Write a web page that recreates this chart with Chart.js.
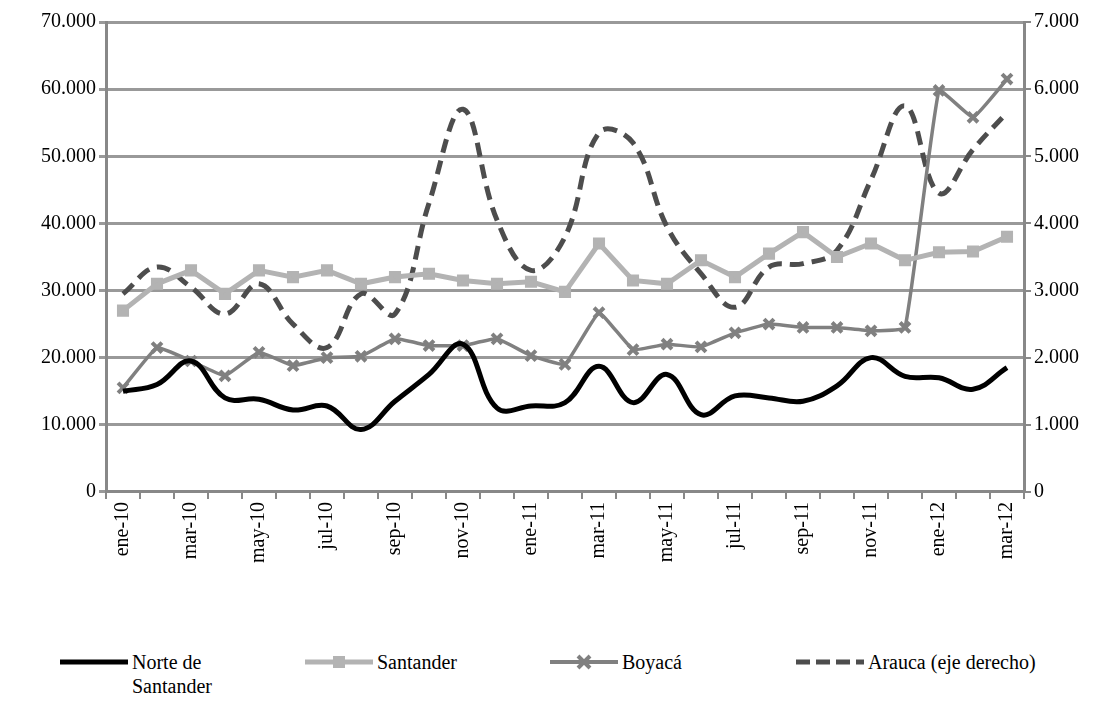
<!DOCTYPE html>
<html><head><meta charset="utf-8">
<script src="https://cdn.jsdelivr.net/npm/chart.js@4"></script>
<style>
body{margin:0;background:#fff;font-family:"Times New Roman","Liberation Serif",Times,serif;}
#wrap{position:absolute;left:0;top:0;width:1107px;height:566px;}
#legend{position:absolute;top:650px;left:0;width:1107px;font-size:20px;color:#000;}
.it{position:absolute;top:0;display:flex;align-items:flex-start;line-height:24px;}
.it svg{margin-right:2px;margin-top:2px;}
</style></head><body>
<div id="wrap"><canvas id="c"></canvas></div>
<div id="legend"></div>
<script>
const months=["ene-10","feb-10","mar-10","abr-10","may-10","jun-10","jul-10","ago-10","sep-10","oct-10","nov-10","dic-10","ene-11","feb-11","mar-11","abr-11","may-11","jun-11","jul-11","ago-11","sep-11","oct-11","nov-11","dic-11","ene-12","feb-12","mar-12"];
const norte=[15000,16000,19500,14000,13800,12200,12800,9300,13500,17500,22000,12500,12800,13300,18700,13300,17500,11500,14300,14000,13500,15800,20000,17200,17000,15300,18500];
const santander=[27000,31000,33000,29500,33000,32000,33000,31000,32000,32500,31500,31000,31300,29800,37000,31500,31000,34500,32000,35500,38700,35000,37000,34500,35700,35800,38000];
const boyaca=[15500,21500,19500,17300,20800,18800,20000,20200,22800,21800,21800,22800,20300,19000,26700,21200,22000,21600,23700,25000,24500,24500,24000,24500,59800,55800,61500];
const arauca=[2950,3350,3050,2650,3100,2500,2150,2950,2650,4300,5700,4050,3300,3800,5350,5200,3950,3250,2750,3350,3400,3600,4650,5750,4450,5100,5650];
const fmt=v=>String(v).replace(/\B(?=(\d{3})+(?!\d))/g,".");
const F={family:"'Times New Roman','Liberation Serif',serif",size:20};
new Chart(document.getElementById('c'),{type:'line',
data:{labels:months,datasets:[
{label:"Norte de Santander",data:norte,borderColor:"#000",borderWidth:5,pointRadius:0,tension:0.4,yAxisID:'y'},
{label:"Santander",data:santander,borderColor:"#b3b3b3",backgroundColor:"#b3b3b3",borderWidth:5,pointStyle:'rect',pointRadius:5,tension:0,yAxisID:'y'},
{label:"Boyacá",data:boyaca,borderColor:"#808080",backgroundColor:"#808080",borderWidth:3.5,pointStyle:'crossRot',pointRadius:7,pointBorderWidth:4,tension:0.1,yAxisID:'y'},
{label:"Arauca (eje derecho)",data:arauca,borderColor:"#4d4d4d",borderWidth:5,borderDash:[14,8],pointRadius:0,tension:0.4,yAxisID:'y2'}
]},
options:{responsive:true,maintainAspectRatio:false,animation:false,
layout:{padding:{top:22,left:38,right:25}},
plugins:{legend:{display:false},tooltip:{enabled:false}},
scales:{
x:{offset:true,grid:{offset:true,drawOnChartArea:false,color:'#888',lineWidth:2,tickLength:7},border:{color:'#888',width:3},
 ticks:{autoSkip:false,maxRotation:90,minRotation:90,color:'#000',font:F,callback:function(v,i){return i%2===0?months[i]:'';}}},
y:{position:'left',min:0,max:70000,ticks:{stepSize:10000,color:'#000',font:F,callback:v=>fmt(v)},
 grid:{color:'#999',lineWidth:3,tickLength:7},border:{color:'#888',width:3}},
y2:{position:'right',min:0,max:7000,ticks:{stepSize:1000,color:'#000',font:F,callback:v=>fmt(v)},
 grid:{drawOnChartArea:false,color:'#888',lineWidth:2,tickLength:7},border:{color:'#888',width:3}}
}}});
const leg=document.getElementById('legend');
const items=[["Norte de<br>Santander",60,'<line x1="0" y1="10" x2="68" y2="10" stroke="#000" stroke-width="5"/>'],
["Santander",305,'<line x1="0" y1="10" x2="68" y2="10" stroke="#b3b3b3" stroke-width="5"/><rect x="28" y="4" width="12" height="12" fill="#b3b3b3"/>'],
["Boyacá",550,'<line x1="0" y1="10" x2="68" y2="10" stroke="#808080" stroke-width="4"/><path d="M28 4L40 16M40 4L28 16" stroke="#808080" stroke-width="4"/>'],
["Arauca (eje derecho)",796,'<line x1="0" y1="10" x2="68" y2="10" stroke="#4d4d4d" stroke-width="5" stroke-dasharray="14 6"/>']];
items.forEach(([t,x,s])=>{const d=document.createElement('div');d.className='it';d.style.left=x+'px';
d.innerHTML='<svg width="70" height="20">'+s+'</svg><span>'+t+'</span>';leg.appendChild(d);});
</script></body></html>
